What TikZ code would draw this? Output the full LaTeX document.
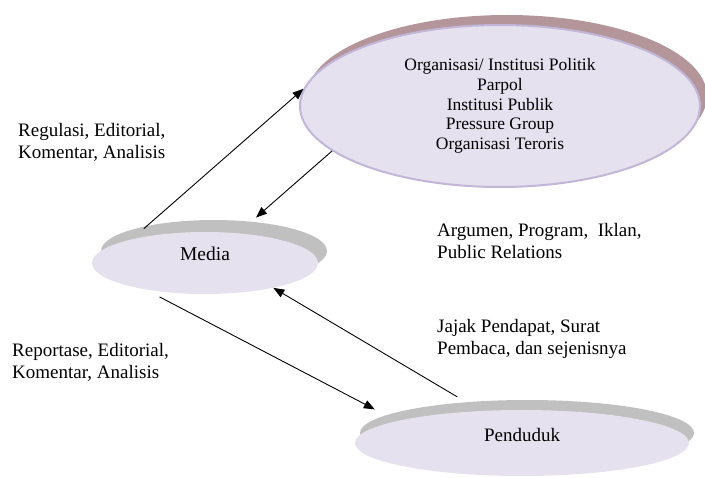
\documentclass[tikz,border=0pt]{standalone}
\usepackage{fontspec}
\setmainfont{Liberation Serif}
\usetikzlibrary{shapes.geometric,shadows,arrows.meta}
\definecolor{bubblefill}{HTML}{E5E1EF}
\definecolor{bubbleline}{HTML}{C2B6D8}
\definecolor{rosyshade}{HTML}{B4969A}
\definecolor{greyshade}{HTML}{C0C0C0}
\begin{document}
\begin{tikzpicture}
  [
    x=1pt, y=-1pt,
    bubble/.style={ellipse, fill=bubblefill, inner sep=0pt, align=center},
    note/.style={anchor=west, inner sep=0pt, align=left, font=\fontsize{19}{21.5}\selectfont},
    link/.style={line width=0.9pt, -{Triangle[length=11pt,width=8.5pt]}}
  ]
  \useasboundingbox (0,0) rectangle (705,478);
  % organisasi
  \node [bubble, draw=bubbleline, line width=2pt, minimum width=400pt, minimum height=162pt,
         general shadow={fill=rosyshade, shadow xshift=7pt, shadow yshift=10pt},
         font=\fontsize{17.5}{19.75}\selectfont] (org) at (500,106)
    {Organisasi/ Institusi Politik\\Parpol\\Institusi Publik\\Pressure Group\\Organisasi Teroris};
  % media
  \node [bubble, minimum width=226pt, minimum height=62pt, text depth=18pt,
         general shadow={fill=greyshade, shadow xshift=9pt, shadow yshift=12pt},
         font=\fontsize{19.5}{22}\selectfont] (media) at (205,263) {Media};
  % penduduk
  \node [bubble, minimum width=334pt, minimum height=66pt, text depth=16pt,
         general shadow={fill=greyshade, shadow xshift=5pt, shadow yshift=10pt},
         font=\fontsize{19}{22}\selectfont] (penduduk) at (522,443) {Penduduk};
  % labels
  \node [note] (regulasi) at (18,142.5) {Regulasi, Editorial,\\Komentar, Analisis};
  \node [note] (reportase) at (12,362.5) {Reportase, Editorial,\\Komentar, Analisis};
  \node [note] (argumen) at (437,241) {Argumen, Program,\ \ Iklan,\\Public Relations};
  \node [note] (jajak) at (437,339) {Jajak Pendapat, Surat\\Pembaca, dan sejenisnya};
  % arrows
  \draw [link, shorten <=16pt] (media.162.4) -- (org.175);
  \draw [link, shorten >=23.7pt] (org.195.3) -- (media.42.8);
  \draw [link, shorten <=16pt, shorten >=25pt] (media.204.1) -- (penduduk.170.6);
  \draw [link, shorten <=27.4pt] (penduduk.142.4) -- (media.340.3);
\end{tikzpicture}
\end{document}
